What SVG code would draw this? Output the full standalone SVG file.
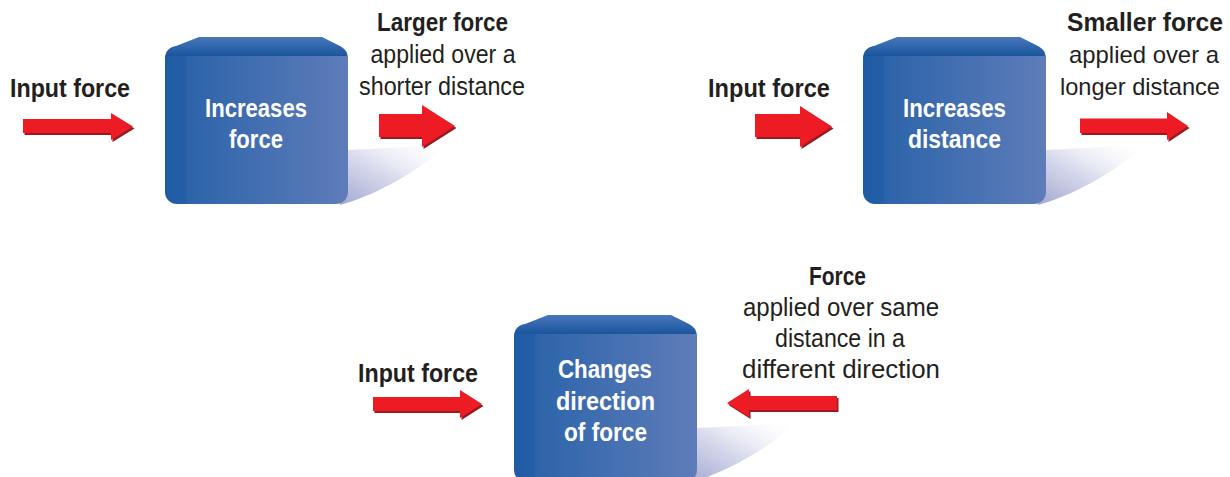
<svg xmlns="http://www.w3.org/2000/svg" width="1230" height="477" viewBox="0 0 1230 477">
<defs>
<linearGradient id="body" x1="0" y1="0" x2="1" y2="0">
<stop offset="0" stop-color="#1f5ba3"/>
<stop offset="0.11" stop-color="#245ea6"/>
<stop offset="0.12" stop-color="#2d64aa"/>
<stop offset="1" stop-color="#5e7cb9"/>
</linearGradient>
<linearGradient id="top" x1="0" y1="0" x2="0" y2="1">
<stop offset="0" stop-color="#4a76bb"/>
<stop offset="0.6" stop-color="#2c63aa"/>
<stop offset="1" stop-color="#1a559c"/>
</linearGradient>
<linearGradient id="shade" x1="1" y1="0" x2="0" y2="1">
<stop offset="0" stop-color="#ffffff" stop-opacity="0"/>
<stop offset="0.45" stop-color="#e2e4f1"/>
<stop offset="1" stop-color="#a3a9d2"/>
</linearGradient>
<style>
.lb{font-family:"Liberation Sans",Arial,sans-serif;font-weight:bold;font-size:26px;fill:#231f20;text-anchor:middle}
.lr{font-family:"Liberation Sans",Arial,sans-serif;font-size:26px;fill:#231f20;text-anchor:middle}
.sm{font-size:24px}
.wb{font-family:"Liberation Sans",Arial,sans-serif;font-weight:bold;font-size:25px;fill:#ffffff;text-anchor:middle}
.ar{fill:#ed1c24}
.as{fill:#9b1a1f}
</style>
</defs>
<rect width="1230" height="477" fill="#ffffff"/>

<g id="box-increases-force">
<path d="M348,150 L448,145 C420,168 385,192 340,205 Z" fill="url(#shade)"/>
<rect x="165" y="46" width="183" height="158" rx="12" fill="url(#body)"/>
<path d="M166,56 Q167,50 176,46 L199,37 L322,37 L340,46 Q347,50 347,56 Z" fill="url(#top)"/>
<text class="wb" x="256" y="117" textLength="102" lengthAdjust="spacingAndGlyphs">Increases</text>
<text class="wb" x="256" y="148" textLength="54" lengthAdjust="spacingAndGlyphs">force</text>
</g>

<g id="box-increases-distance" transform="translate(698,0)">
<path d="M348,150 L448,145 C420,168 385,192 340,205 Z" fill="url(#shade)"/>
<rect x="165" y="46" width="183" height="158" rx="12" fill="url(#body)"/>
<path d="M166,56 Q167,50 176,46 L199,37 L322,37 L340,46 Q347,50 347,56 Z" fill="url(#top)"/>
<text class="wb" x="256.5" y="117" textLength="103" lengthAdjust="spacingAndGlyphs">Increases</text>
<text class="wb" x="256.5" y="148" textLength="93" lengthAdjust="spacingAndGlyphs">distance</text>
</g>

<g id="box-changes-direction" transform="translate(349,278)">
<path d="M348,150 L448,145 C420,168 385,192 340,205 Z" fill="url(#shade)"/>
<rect x="165" y="46" width="183" height="158" rx="12" fill="url(#body)"/>
<path d="M166,56 Q167,50 176,46 L199,37 L322,37 L340,46 Q347,50 347,56 Z" fill="url(#top)"/>
<text class="wb" x="256" y="100" textLength="94" lengthAdjust="spacingAndGlyphs">Changes</text>
<text class="wb" x="256.5" y="132" textLength="99" lengthAdjust="spacingAndGlyphs">direction</text>
<text class="wb" x="256.5" y="163" textLength="83" lengthAdjust="spacingAndGlyphs">of force</text>
</g>

<g id="labels">
<text class="lb" x="70" y="97" textLength="120" lengthAdjust="spacingAndGlyphs">Input force</text>
<text class="lb" x="442.5" y="31" textLength="131" lengthAdjust="spacingAndGlyphs">Larger force</text>
<text class="lr" x="443" y="63" textLength="145" lengthAdjust="spacingAndGlyphs">applied over a</text>
<text class="lr" x="442" y="95" textLength="166" lengthAdjust="spacingAndGlyphs">shorter distance</text>

<text class="lb" x="769" y="97" textLength="122" lengthAdjust="spacingAndGlyphs">Input force</text>
<text class="lb" x="1145" y="31" textLength="156" lengthAdjust="spacingAndGlyphs">Smaller force</text>
<text class="lr sm" x="1144" y="63" textLength="150" lengthAdjust="spacingAndGlyphs">applied over a</text>
<text class="lr sm" x="1140" y="95" textLength="160" lengthAdjust="spacingAndGlyphs">longer distance</text>

<text class="lb" x="418" y="382" textLength="120" lengthAdjust="spacingAndGlyphs">Input force</text>
<text class="lb" x="837.5" y="285" textLength="57" lengthAdjust="spacingAndGlyphs">Force</text>
<text class="lr" x="841" y="316" textLength="196" lengthAdjust="spacingAndGlyphs">applied over same</text>
<text class="lr" x="840" y="347" textLength="130" lengthAdjust="spacingAndGlyphs">distance in a</text>
<text class="lr" x="841" y="378" textLength="198" lengthAdjust="spacingAndGlyphs">different direction</text>
</g>

<g id="connectors">
<g transform="translate(1.5,2)" class="as">
<path d="M23,119 H111 V113 L133,126.5 L111,140 V133 H23 Z"/>
<path d="M379,114 H422 V105 L455,126 L422,147 V137 H379 Z"/>
<path d="M755,114 H800 V106 L832,126.5 L800,147 V137 H755 Z"/>
<path d="M1080,118.5 H1167 V112 L1188,126 L1167,140 V133 H1080 Z"/>
<path d="M373,397 H460 V390 L482,404 L460,418 V411 H373 Z"/>
<path d="M837,396 H749 V389 L727,403 L749,417 V410 H837 Z"/>
</g>
<g class="ar">
<path d="M23,119 H111 V113 L133,126.5 L111,140 V133 H23 Z"/>
<path d="M379,114 H422 V105 L455,126 L422,147 V137 H379 Z"/>
<path d="M755,114 H800 V106 L832,126.5 L800,147 V137 H755 Z"/>
<path d="M1080,118.5 H1167 V112 L1188,126 L1167,140 V133 H1080 Z"/>
<path d="M373,397 H460 V390 L482,404 L460,418 V411 H373 Z"/>
<path d="M837,396 H749 V389 L727,403 L749,417 V410 H837 Z"/>
</g>
</g>
</svg>
